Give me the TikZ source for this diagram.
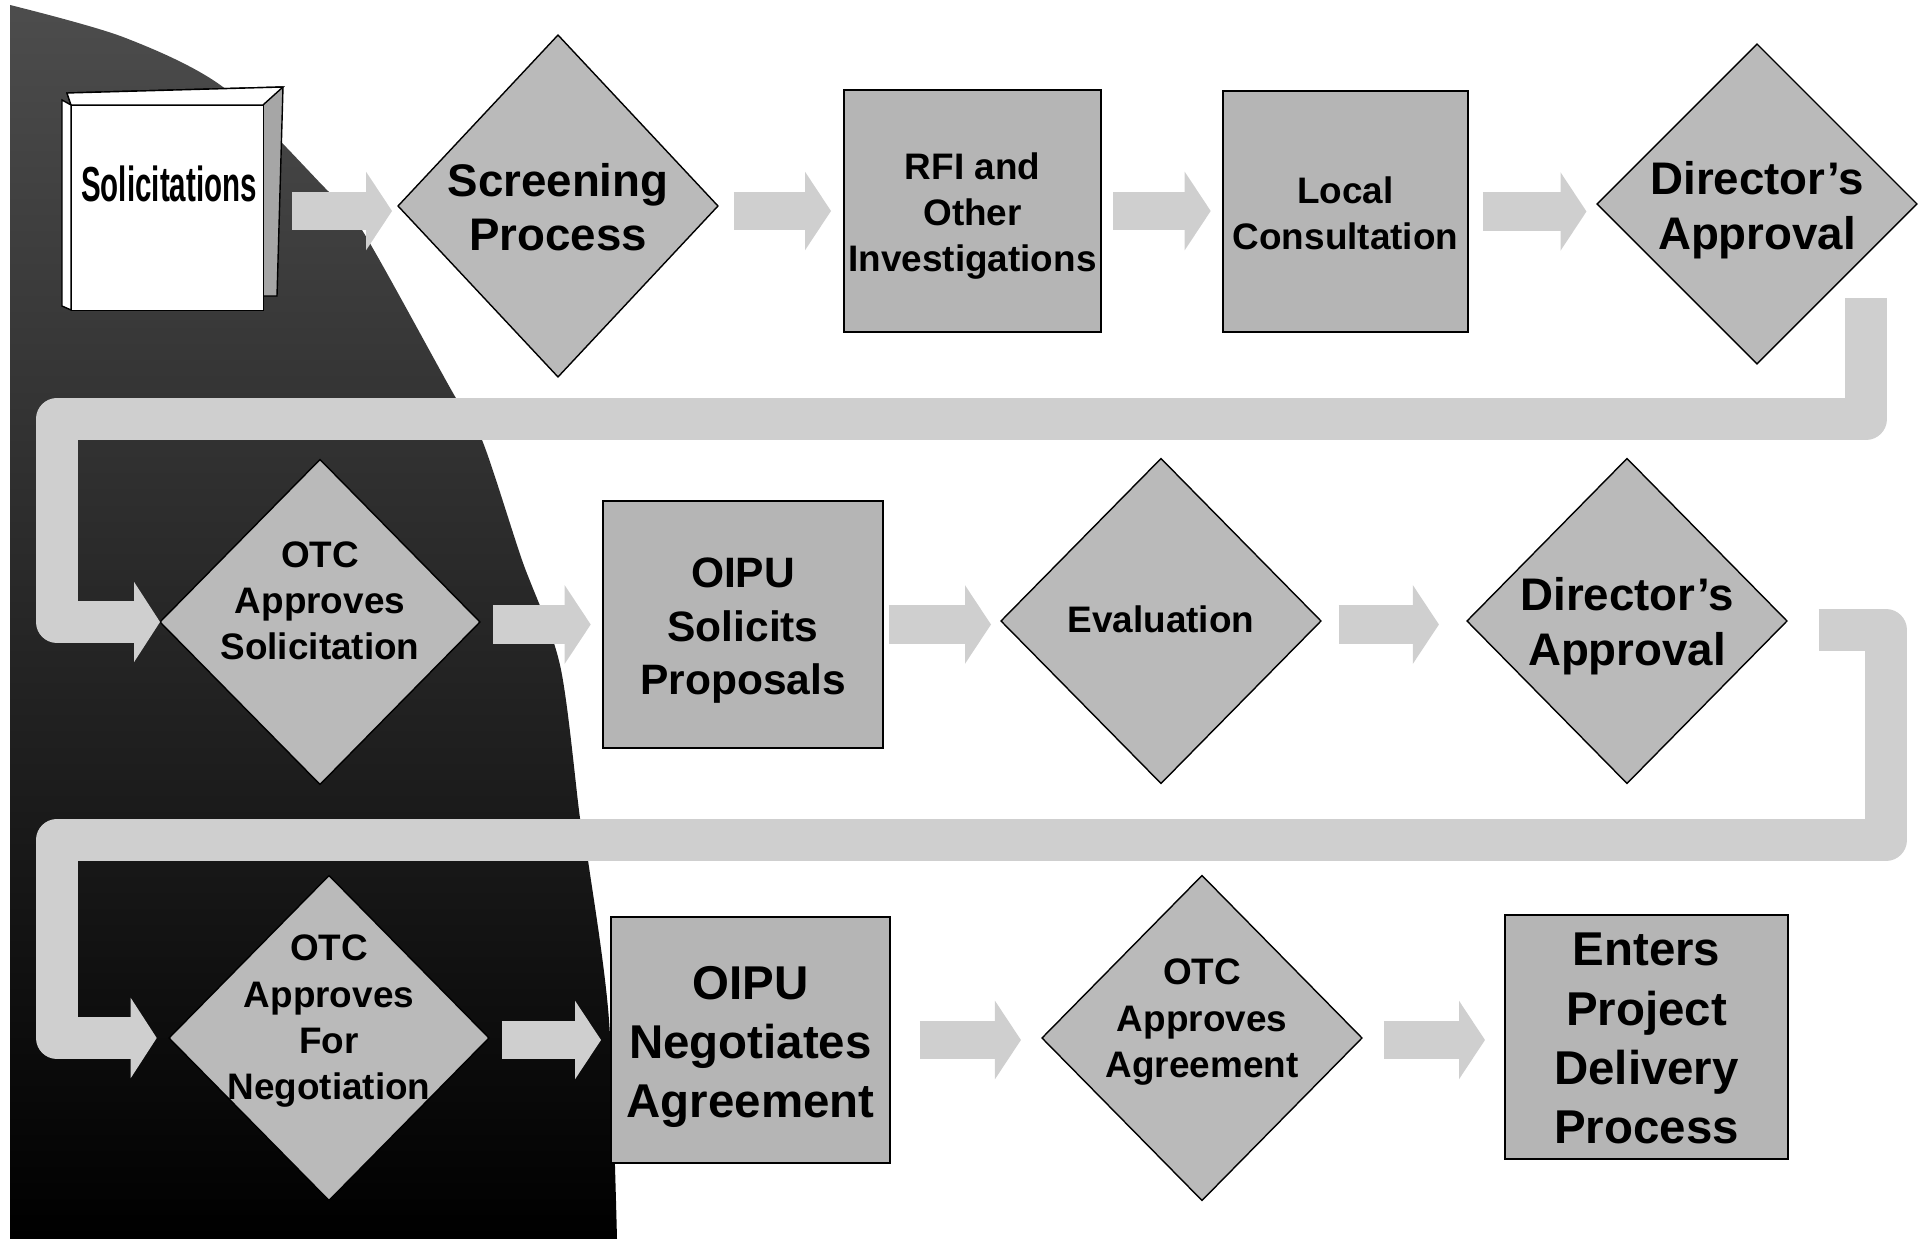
\documentclass[tikz,border=0pt]{standalone}
\usepackage{fontspec}
\setmainfont{Liberation Sans}
\usetikzlibrary{shapes.geometric,arrows.meta}
\definecolor{flowgray}{gray}{0.81}
\definecolor{diagray}{gray}{0.73}
\definecolor{boxgray}{gray}{0.71}
\tikzset{
  decide/.style={diamond,draw,fill=diagray,inner sep=0pt,outer sep=0pt,line width=0.8pt,minimum width=6.4cm,minimum height=6.5cm},
  stage/.style={rectangle,draw,fill=boxgray,inner sep=0pt,outer sep=0pt,line width=1pt},
  smalltext/.style={font=\bfseries\fontsize{21}{26.3}\selectfont,align=center},
  midtext/.style={font=\bfseries\fontsize{24.2}{30.5}\selectfont,align=center},
  bigtext/.style={font=\bfseries\fontsize{26}{31}\selectfont,align=center},
  hugetext/.style={font=\bfseries\fontsize{27}{33.8}\selectfont,align=center},
  flow/.style={draw=flowgray,line width=22pt,-{Triangle[length=14.8pt,width=44pt]}},
  flowlong/.style={draw=flowgray,line width=24pt,line join=round,-{Triangle[length=14.8pt,width=45pt]}}
}
\begin{document}
\begin{tikzpicture}[x=0.02cm,y=-0.02cm]
\useasboundingbox (0,0) rectangle (1931,1239);
\shade[top color=black!70,middle color=black!84,bottom color=black]
  plot[smooth,tension=0.5] coordinates {(10,5) (123,37) (223,87) (324,187) (362,230) (453,393) (482,440) (522,560) (560,665) (580,818) (589,867) (609,1020) (617,1239)}
  -- (10,1239) -- cycle;

\draw[fill=black!35,line width=0.8pt] (67,93) -- (283,87) -- (277,296) -- (263,296) -- (263,105) -- (71,105) -- cycle;
\draw[fill=white,line width=0.8pt] (67,93) -- (283,87) -- (263,105) -- (71,105) -- cycle;
\draw[fill=white,line width=0.8pt] (62,100) -- (71,105) -- (71,310) -- (62,306) -- cycle;
\node [rectangle,draw,fill=white,inner sep=0pt,minimum width=3.84cm,minimum height=4.1cm] (book) at (167,207.5) {};
\node (booklab) at (169,184) {\bfseries\fontsize{28}{32}\selectfont\scalebox{0.6}[1]{Solicitations}};

\node [decide,minimum height=6.84cm,label={[bigtext,yshift=-0.7pt]center:Screening\\Process}] (screen) at (558,206) {};
\node [stage,minimum width=5.14cm,minimum height=4.84cm,label={[smalltext,yshift=-3pt]center:RFI and\\Other\\Investigations}] (rfi) at (972.5,211) {};
\node [stage,minimum width=4.9cm,minimum height=4.82cm,label={[smalltext,yshift=-1pt]center:Local\\Consultation}] (local) at (1345.5,211.5) {};
\node [decide,minimum height=6.4cm,label={[bigtext,yshift=-3.5pt]center:Director's\\Approval}] (dirone) at (1757,204) {};

\node [decide,label={[smalltext,yshift=12pt]center:OTC\\Approves\\Solicitation}] (otcsol) at (320,622) {};
\node [stage,minimum width=5.6cm,minimum height=4.94cm,label={[midtext,yshift=-3.5pt]center:OIPU\\Solicits\\Proposals}] (solicit) at (743,624.5) {};
\node [decide,label={[smalltext,yshift=1pt]center:Evaluation}] (evalu) at (1161,621) {};
\node [decide,label={[bigtext,yshift=-3pt]center:Director's\\Approval}] (dirtwo) at (1627,621) {};

\node [decide,label={[smalltext,yshift=9.5pt]center:OTC\\Approves\\For\\Negotiation}] (otcneg) at (329,1038) {};
\node [stage,minimum width=5.58cm,minimum height=4.92cm,label={[hugetext,yshift=-4pt]center:OIPU\\Negotiates\\Agreement}] (negot) at (750.5,1040) {};
\node [decide,label={[smalltext,yshift=9pt]center:OTC\\Approves\\Agreement}] (otcagr) at (1202,1038) {};
\node [stage,minimum width=5.66cm,minimum height=4.88cm,label={[hugetext,yshift=-1pt]center:Enters\\Project\\Delivery\\Process}] (enters) at (1646.5,1037) {};

\coordinate (bendA) at (1866,419);
\coordinate (bendB) at (57,419);
\coordinate (bendC) at (1886,630);
\coordinate (bendD) at (1886,840);
\coordinate (bendE) at (57,840);

\draw[flow,shorten <=16.5pt,shorten >=3.4pt] (book.east |- rfi.west) -- (screen.west |- rfi.west);
\draw[flow,shorten <=9pt,shorten >=7.4pt] (screen.east |- rfi.west) -- (rfi.west);
\draw[flow,shorten <=7pt,shorten >=7pt] (rfi.east) -- (local.west |- rfi.east);
\draw[flow,shorten <=8.5pt,shorten >=6pt] (local.east) -- (dirone.west |- local.east);

\draw[flow,shorten <=7.4pt,shorten >=7pt] (otcsol.east |- solicit.west) -- (solicit.west);
\draw[flow,shorten <=3.4pt,shorten >=5.7pt] (solicit.east) -- (evalu.west |- solicit.east);
\draw[flow,shorten <=10pt,shorten >=16pt] (evalu.east |- solicit.east) -- (dirtwo.west |- solicit.east);

\draw[flow,shorten <=7.4pt,shorten >=5.7pt] (otcneg.east |- negot.west) -- (negot.west);
\draw[flow,shorten <=17pt,shorten >=12pt] (negot.east) -- (otcagr.west |- negot.east);
\draw[flow,shorten <=12.5pt,shorten >=11.4pt] (otcagr.east |- negot.east) -- (enters.west |- negot.east);

\draw[flowlong,shorten <=53.5pt] (dirone.east -| bendA) -- (bendA) -- (bendB) -- (bendB |- otcsol.west) -- (otcsol.west);
\draw[flowlong,shorten <=18pt,shorten >=7pt] (dirtwo.east |- bendC) -- (bendC) -- (bendD) -- (bendE) -- (bendE |- otcneg.west) -- (otcneg.west);
\end{tikzpicture}
\end{document}
